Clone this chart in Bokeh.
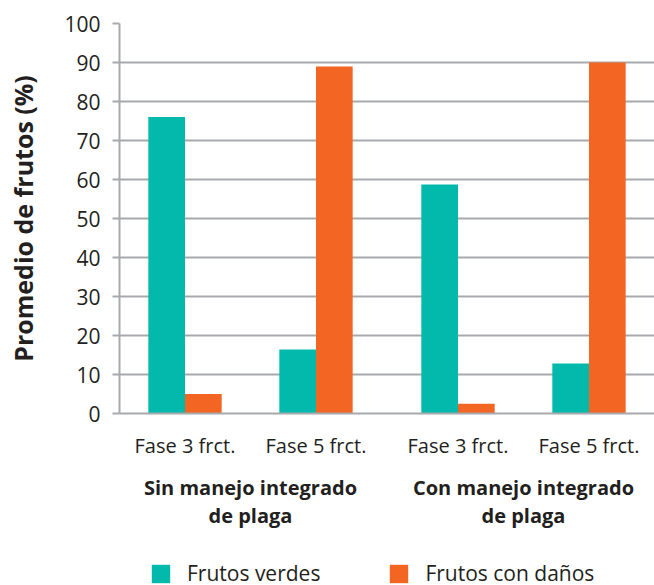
from bokeh.plotting import figure
from bokeh.layouts import column
from bokeh.models import FactorRange, Range1d, ColumnDataSource, Legend, LegendItem, FixedTicker
from bokeh.transform import dodge
from bokeh.embed import file_html
from bokeh.resources import INLINE

groups = ["Sin manejo integrado\nde plaga", "Con manejo integrado\nde plaga"]
phases = ["Fase 3 frct.", "Fase 5 frct."]
frutos_verdes = [76, 16.4, 58.7, 12.8]
frutos_danos = [5, 89, 2.5, 90]
series_names = ["Frutos verdes", "Frutos con daños"]
y_ticks = [0, 10, 20, 30, 40, 50, 60, 70, 80, 90, 100]

TEAL = "#02B9AC"
ORANGE = "#F26522"
GRID = "#A7A9AC"
TEXT = "#231F20"
FONT = "Open Sans"

factors = [(g, ph) for g in groups for ph in phases]
src = ColumnDataSource(dict(x=factors, verdes=frutos_verdes, danos=frutos_danos))

p = figure(
    x_range=FactorRange(*factors, group_padding=0.084, range_padding=0, factor_padding=0),
    y_range=Range1d(0, 100),
    width=654, height=550,
    output_backend="svg", toolbar_location=None,
    min_border_left=119, min_border_right=0, min_border_top=23, min_border_bottom=137,
)
p.outline_line_color = None

p.vbar(x=dodge("x", -0.14, range=p.x_range), top="verdes", width=0.28, source=src,
       fill_color=TEAL, line_color=None)
p.vbar(x=dodge("x", 0.14, range=p.x_range), top="danos", width=0.28, source=src,
       fill_color=ORANGE, line_color=None)

p.xgrid.grid_line_color = None
p.ygrid.grid_line_color = GRID
p.ygrid.grid_line_width = 2
p.ygrid.ticker = FixedTicker(ticks=y_ticks)

p.yaxis.ticker = FixedTicker(ticks=y_ticks)
p.yaxis.axis_label = "Promedio de frutos (%)"
p.yaxis.axis_label_text_font = FONT
p.yaxis.axis_label_text_font_style = "bold"
p.yaxis.axis_label_text_font_size = "25px"
p.yaxis.axis_label_text_color = TEXT
p.yaxis.axis_label_standoff = 21
p.yaxis.major_label_text_font = FONT
p.yaxis.major_label_text_font_size = "21px"
p.yaxis.major_label_text_color = TEXT
p.yaxis.major_label_standoff = 12
p.yaxis.axis_line_color = GRID
p.yaxis.axis_line_width = 2
p.yaxis.major_tick_line_color = GRID
p.yaxis.major_tick_line_width = 2
p.yaxis.major_tick_out = 7
p.yaxis.major_tick_in = 0
p.yaxis.minor_tick_line_color = None

xa = p.xaxis[0]
xa.axis_line_color = GRID
xa.axis_line_width = 2
xa.major_tick_line_color = None
xa.minor_tick_line_color = None
xa.major_label_text_font = FONT
xa.major_label_text_font_size = "20px"
xa.major_label_text_color = TEXT
xa.major_label_standoff = 12
xa.group_text_font = FONT
xa.group_text_font_size = "20px"
xa.group_text_font_style = "bold"
xa.group_text_color = TEXT
xa.group_text_line_height = 1.05
xa.separator_line_color = None

# legend strip below the chart (frame is aligned with the chart's frame)
leg = figure(width=654, height=35, output_backend="svg", toolbar_location=None,
             x_axis_type=None, y_axis_type=None, min_border=0,
             x_range=Range1d(0, 1), y_range=Range1d(0, 1))
leg.outline_line_color = None
leg.xgrid.visible = False
leg.ygrid.visible = False
lr1 = leg.vbar(x=[0], top=[0], width=0.001, fill_color=TEAL, line_color=None)
lr2 = leg.vbar(x=[0], top=[0], width=0.001, fill_color=ORANGE, line_color=None)
legend = Legend(
    items=[LegendItem(label=series_names[0], renderers=[lr1]),
           LegendItem(label=series_names[1], renderers=[lr2])],
    orientation="horizontal", location=(30, -2),
    glyph_width=23, glyph_height=23, label_standoff=15, spacing=67,
    padding=0, margin=0, border_line_color=None, background_fill_alpha=0,
    label_text_font=FONT, label_text_font_size="21px", label_text_color=TEXT,
)
leg.add_layout(legend, "center")

layout = column(p, leg, spacing=0)
open("out.html", "w").write(file_html(layout, INLINE))
